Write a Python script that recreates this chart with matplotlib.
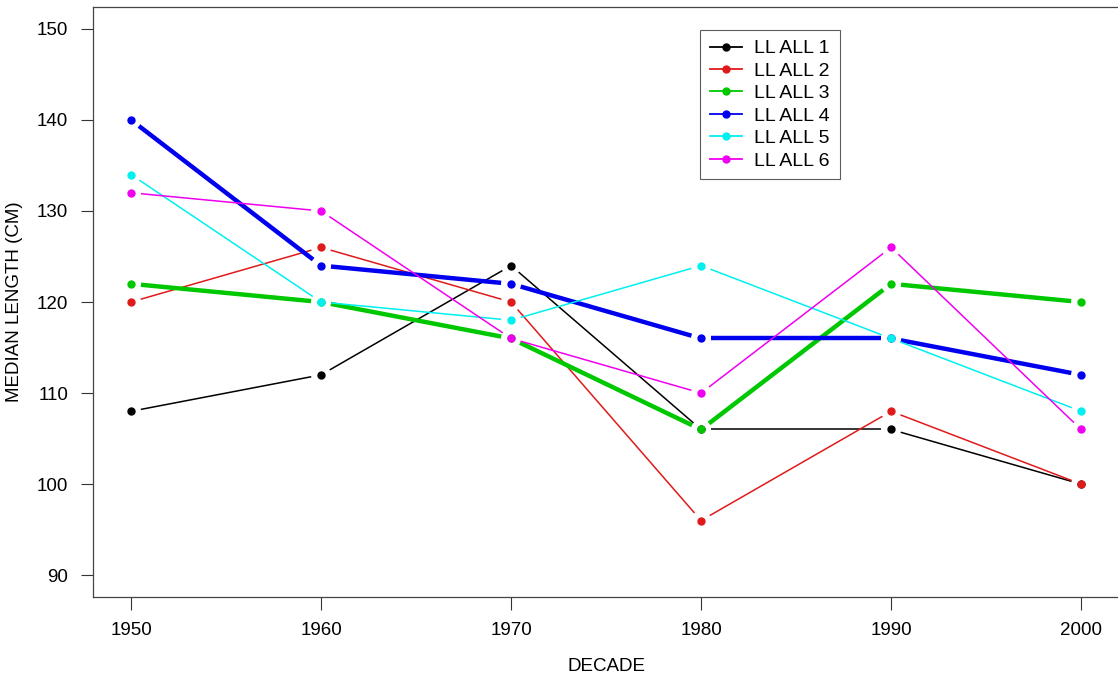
import numpy as np
import matplotlib.pyplot as plt
from matplotlib.lines import Line2D

plt.rcParams['font.family'] = ['Liberation Sans', 'DejaVu Sans']

decades = [1950, 1960, 1970, 1980, 1990, 2000]
ll_all_1 = [108, 112, 124, 106, 106, 100]
ll_all_2 = [120, 126, 120, 96, 108, 100]
ll_all_3 = [122, 120, 116, 106, 122, 120]
ll_all_4 = [140, 124, 122, 116, 116, 112]
ll_all_5 = [134, 120, 118, 124, 116, 108]
ll_all_6 = [132, 130, 116, 110, 126, 106]

labels = ['LL ALL 1', 'LL ALL 2', 'LL ALL 3', 'LL ALL 4', 'LL ALL 5', 'LL ALL 6']
series = [ll_all_1, ll_all_2, ll_all_3, ll_all_4, ll_all_5, ll_all_6]
colors = ['black', '#e01a1a', '#00c800', '#0000ee', '#00f0f0', '#f000f0']
widths = [1.1, 1.1, 3.2, 3.2, 1.1, 1.1]

fig = plt.figure(figsize=(11.18, 6.81), dpi=100)
ax = fig.add_axes([0.0832, 0.1233, 0.9178, 0.8664])
ax.set_xlim(1948, 2002)
ax.set_ylim(87.6, 152.4)

# R type="b": lines stop short of each point
gap = 10  # pixels
for ys, c, w, lab in zip(series, colors, widths, labels):
    pts = ax.transData.transform(np.column_stack([decades, ys]))
    for i in range(len(pts) - 1):
        p0, p1 = pts[i], pts[i + 1]
        d = p1 - p0
        L = np.hypot(*d)
        if L <= 2 * gap:
            continue
        u = d / L
        seg = ax.transData.inverted().transform([p0 + u * gap, p1 - u * gap])
        ax.plot(seg[:, 0], seg[:, 1], color=c, lw=w, solid_capstyle='butt')
    ax.plot(decades, ys, 'o', color=c, ms=5, mec=c)

ax.set_xticks(decades)
ax.set_yticks(range(90, 151, 10))
ax.tick_params(labelsize=13.5, length=9, width=0.8, color='#333333', pad=9)
for s in ax.spines.values():
    s.set_color('#444444')
    s.set_linewidth(0.9)

ax.set_xlabel('DECADE', fontsize=13.5, labelpad=14)
ax.set_ylabel('MEDIAN LENGTH (CM)', fontsize=13.5, labelpad=10)

handles = [Line2D([0], [0], color=c, lw=1.3, marker='o', ms=5) for c in colors]
leg = fig.legend(handles, labels, loc='upper left', bbox_to_anchor=(700 / 1118, 1 - 30 / 681),
                 fontsize=14, frameon=True, fancybox=False, edgecolor='#333333',
                 handlelength=1.65, handletextpad=0.65, labelspacing=0.25, borderpad=0.5,
                 borderaxespad=0)
leg.get_frame().set_linewidth(0.8)

fig.savefig('out.png', dpi=100)
